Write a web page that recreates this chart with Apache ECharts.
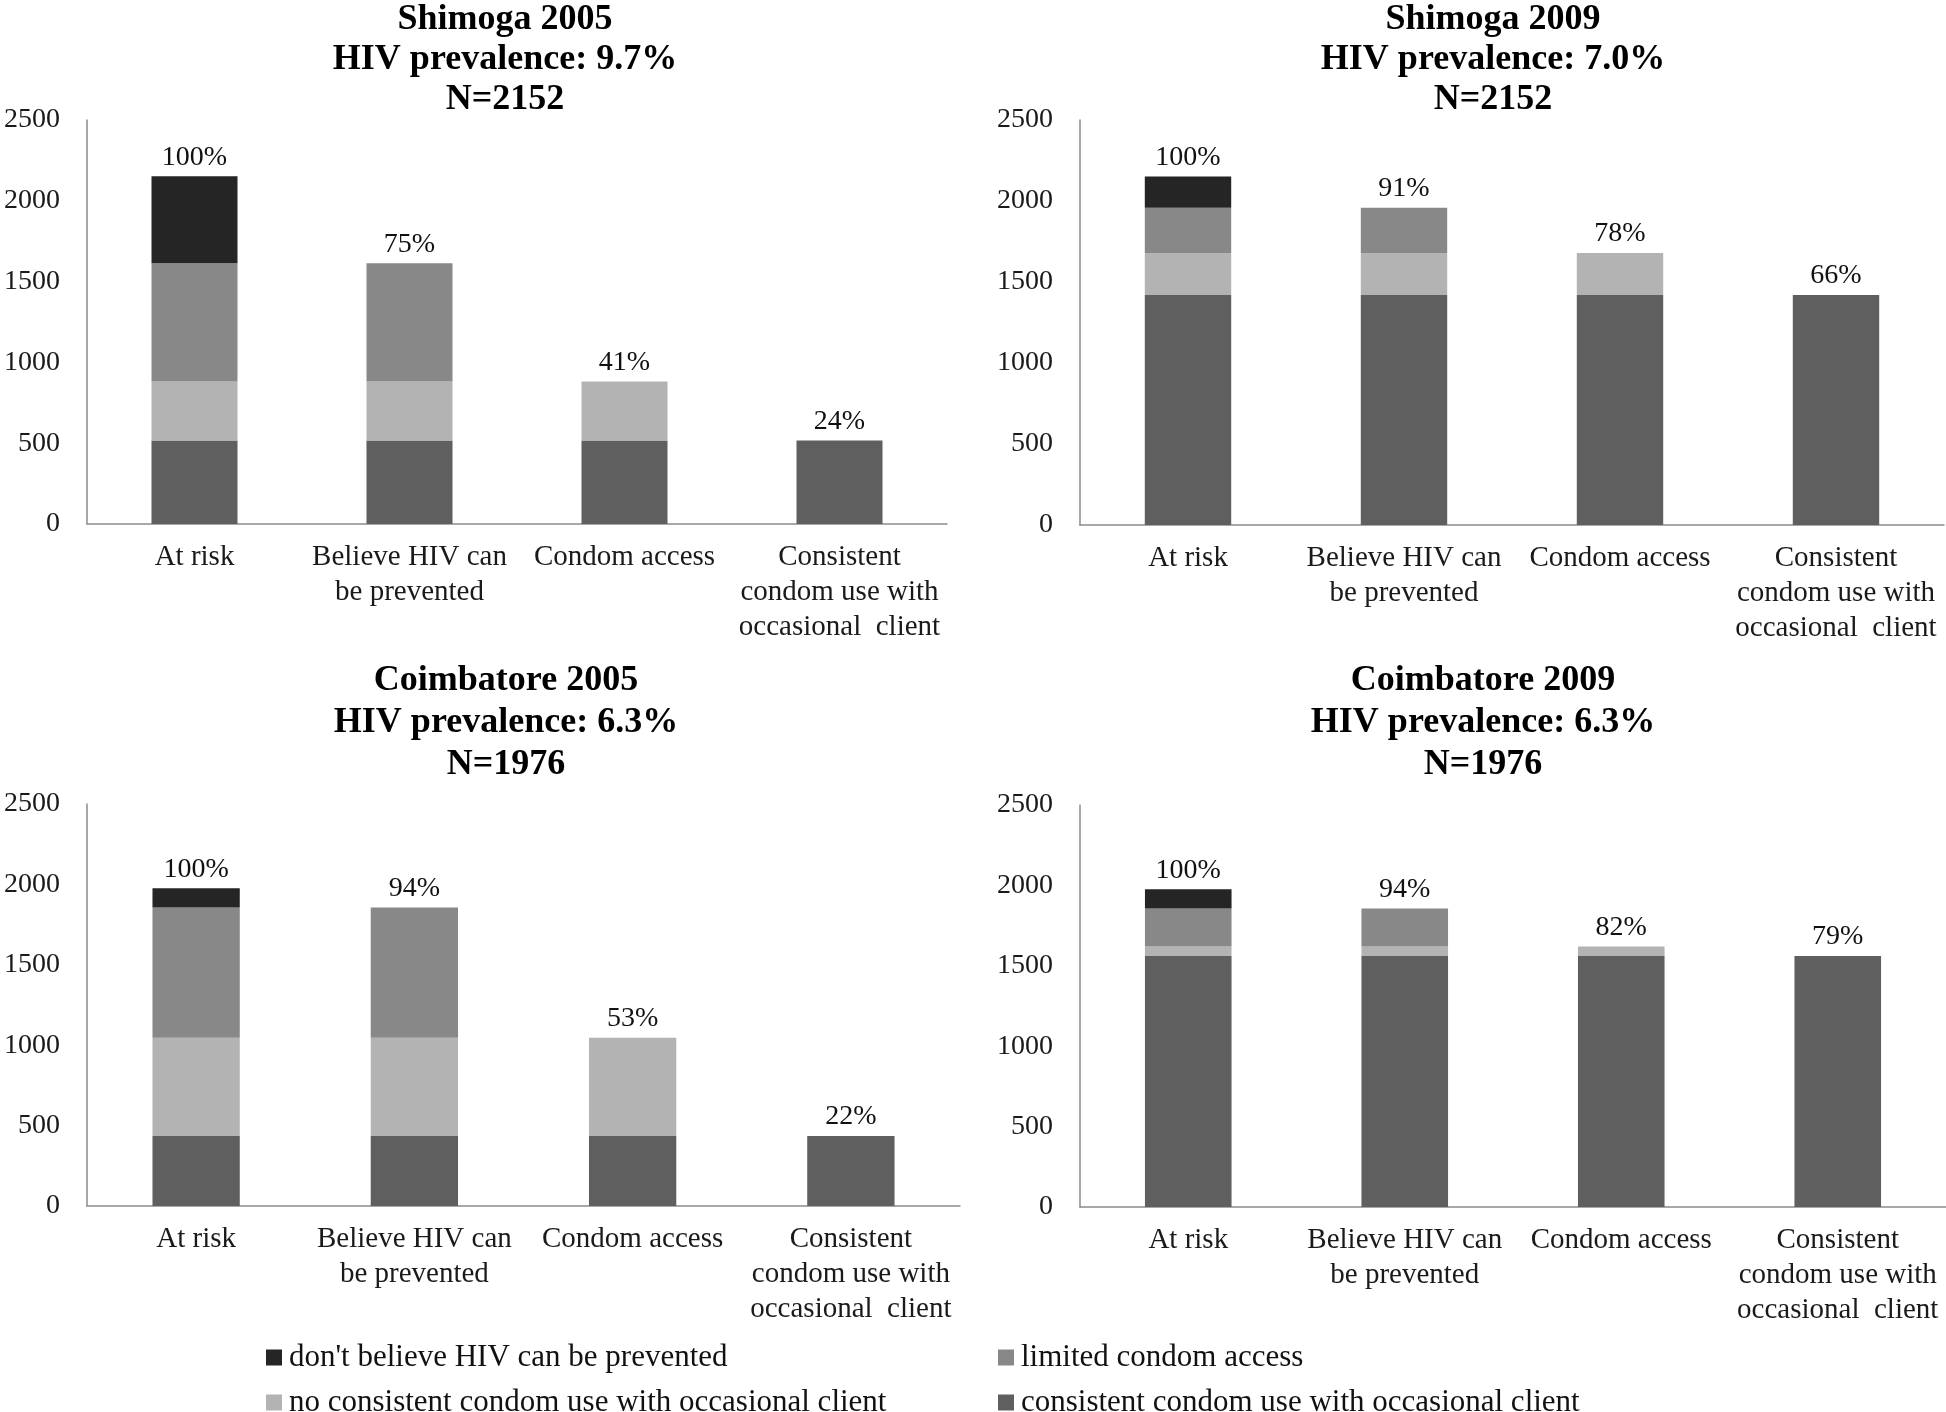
<!DOCTYPE html>
<html>
<head>
<meta charset="utf-8">
<script src="https://cdn.jsdelivr.net/npm/echarts@6/dist/echarts.min.js"></script>
<style>
  html, body { margin: 0; padding: 0; background: #ffffff; }
  #chart { width: 1946px; height: 1412px; }
</style>
</head>
<body>
<div id="chart"></div>
<script>
// ---------- Data ----------
const categories = ['At risk', 'Believe HIV can\nbe prevented', 'Condom access', 'Consistent\ncondom use with\noccasional  client'];
const seriesNames = ["don't believe HIV can be prevented", 'limited condom access', 'no consistent condom use with occasional client', 'consistent condom use with occasional client'];

const panelTitles = [
  'Shimoga 2005\nHIV prevalence: 9.7%\nN=2152',
  'Shimoga 2009\nHIV prevalence: 7.0%\nN=2152',
  'Coimbatore 2005\nHIV prevalence: 6.3%\nN=1976',
  'Coimbatore 2009\nHIV prevalence: 6.3%\nN=1976'
];

// stacked segments (bottom to top)
const shimoga2005Consistent   = [516, 516, 516, 516];
const shimoga2005NoConsistent = [366, 366, 366, 0];
const shimoga2005Limited      = [732, 732, 0, 0];
const shimoga2005DontBelieve  = [538, 0, 0, 0];
const shimoga2005Pct = ['100%', '75%', '41%', '24%'];

const shimoga2009Consistent   = [1420, 1420, 1420, 1420];
const shimoga2009NoConsistent = [259, 259, 259, 0];
const shimoga2009Limited      = [279, 279, 0, 0];
const shimoga2009DontBelieve  = [194, 0, 0, 0];
const shimoga2009Pct = ['100%', '91%', '78%', '66%'];

const coimbatore2005Consistent   = [435, 435, 435, 435];
const coimbatore2005NoConsistent = [612, 612, 612, 0];
const coimbatore2005Limited      = [810, 810, 0, 0];
const coimbatore2005DontBelieve  = [119, 0, 0, 0];
const coimbatore2005Pct = ['100%', '94%', '53%', '22%'];

const coimbatore2009Consistent   = [1561, 1561, 1561, 1561];
const coimbatore2009NoConsistent = [59, 59, 59, 0];
const coimbatore2009Limited      = [237, 237, 0, 0];
const coimbatore2009DontBelieve  = [119, 0, 0, 0];
const coimbatore2009Pct = ['100%', '94%', '82%', '79%'];

const yTicks = { min: 0, max: 2500, interval: 500 };

// ---------- Styling / layout ----------
const colors = {
  "don't believe HIV can be prevented": '#252525',
  'limited condom access': '#888888',
  'no consistent condom use with occasional client': '#b3b3b3',
  'consistent condom use with occasional client': '#5f5f5f'
};
const FONT = 'Liberation Serif, Times New Roman, serif';

const panels = [
  { segs: [shimoga2005Consistent, shimoga2005NoConsistent, shimoga2005Limited, shimoga2005DontBelieve], pct: shimoga2005Pct,
    grid: { left: 87, top: 120, width: 860, height: 404 }, titleX: 505, titleY: 0, lh: 40 },
  { segs: [shimoga2009Consistent, shimoga2009NoConsistent, shimoga2009Limited, shimoga2009DontBelieve], pct: shimoga2009Pct,
    grid: { left: 1080, top: 120, width: 864, height: 405 }, titleX: 1493, titleY: 0, lh: 40 },
  { segs: [coimbatore2005Consistent, coimbatore2005NoConsistent, coimbatore2005Limited, coimbatore2005DontBelieve], pct: coimbatore2005Pct,
    grid: { left: 87, top: 804, width: 873, height: 402 }, titleX: 506, titleY: 660, lh: 42 },
  { segs: [coimbatore2009Consistent, coimbatore2009NoConsistent, coimbatore2009Limited, coimbatore2009DontBelieve], pct: coimbatore2009Pct,
    grid: { left: 1080, top: 805, width: 866, height: 402 }, titleX: 1483, titleY: 660, lh: 42 }
];

const order = [3, 2, 1, 0]; // segs index -> seriesNames index (bottom to top)

const legendPos = [
  { name: seriesNames[0], left: 266, top: 1342 },
  { name: seriesNames[1], left: 998, top: 1342 },
  { name: seriesNames[2], left: 266, top: 1387 },
  { name: seriesNames[3], left: 998, top: 1387 }
];

const option = {
  backgroundColor: '#ffffff',
  animation: false,
  title: [],
  grid: [],
  xAxis: [],
  yAxis: [],
  series: [],
  legend: legendPos.map(l => ({
    left: l.left, top: l.top, padding: 0,
    itemWidth: 16, itemHeight: 16, icon: 'rect',
    data: [l.name],
    textStyle: { fontFamily: FONT, fontSize: 31, color: '#111', padding: [0, 0, 0, 2] }
  }))
};

panels.forEach((p, gi) => {
  option.title.push({
    text: panelTitles[gi],
    left: p.titleX, top: p.titleY, textAlign: 'center', padding: 0,
    textStyle: { fontFamily: FONT, fontWeight: 'bold', fontSize: 36, lineHeight: p.lh, color: '#000' }
  });
  option.grid.push(Object.assign({ containLabel: false, outerBoundsMode: 'none' }, p.grid));
  option.xAxis.push({
    type: 'category', gridIndex: gi, data: categories,
    axisLine: { show: true, lineStyle: { color: '#8c8c8c', width: 1.5 } },
    axisTick: { show: false },
    axisLabel: { interval: 0, margin: 16, fontFamily: FONT, fontSize: 29, lineHeight: 35, color: '#1a1a1a' },
    splitLine: { show: false }
  });
  option.yAxis.push({
    type: 'value', gridIndex: gi, min: yTicks.min, max: yTicks.max, interval: yTicks.interval,
    axisLine: { show: true, lineStyle: { color: '#8c8c8c', width: 1.5 } },
    axisTick: { show: false },
    axisLabel: { margin: 27, fontFamily: FONT, fontSize: 28, color: '#1a1a1a', formatter: v => String(v) },
    splitLine: { show: false }
  });
  p.segs.forEach((seg, si) => {
    const name = seriesNames[order[si]];
    option.series.push({
      type: 'bar', name: name, xAxisIndex: gi, yAxisIndex: gi, stack: 'g' + gi,
      barWidth: '40%', data: seg,
      itemStyle: { color: colors[name] }
    });
  });
  const totals = categories.map((c, ci) => p.segs.reduce((s, arr) => s + arr[ci], 0));
  option.series.push({
    type: 'scatter', name: 'pct' + gi, xAxisIndex: gi, yAxisIndex: gi,
    symbolSize: 0, data: totals, silent: true,
    itemStyle: { opacity: 1 },
    label: {
      show: true, position: 'top', distance: 5,
      formatter: (prm) => p.pct[prm.dataIndex],
      fontFamily: FONT, fontSize: 28, color: '#111', opacity: 1
    }
  });
});

const chart = echarts.init(document.getElementById('chart'), null, { renderer: 'canvas' });
chart.setOption(option);
</script>
</body>
</html>
